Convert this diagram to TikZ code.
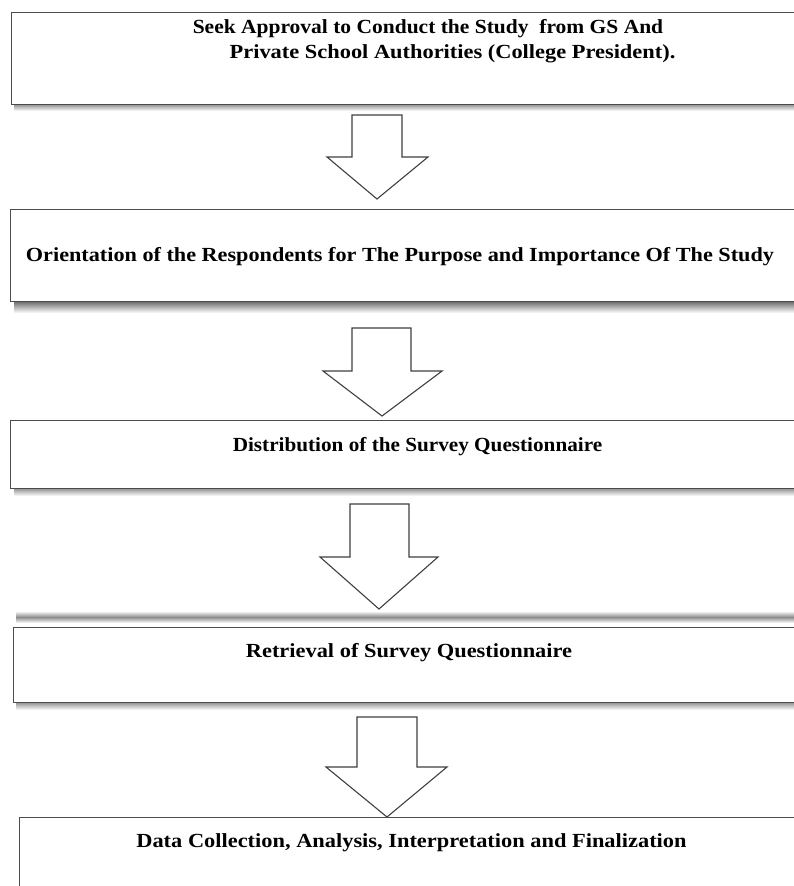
\documentclass[tikz,border=0pt]{standalone}
\usepackage{fontspec}
\setmainfont{Liberation Serif}
\begin{document}
\begin{tikzpicture}[x=1pt,y=-1pt,
  stepbox/.style={draw=black!70, line width=1.3pt, fill=white, rectangle, inner sep=0pt, anchor=north west},
  steptext/.style={font=\fontsize{20}{22}\selectfont\bfseries, inner sep=0pt, anchor=center},
  blockarrow/.style={draw=black!75, line width=1.1pt, fill=white, line join=miter},
  shadowband/.style={top color=black!45, bottom color=white}
]
\useasboundingbox (0,0) rectangle (794,886);
\clip (0,0) rectangle (794,886);
\fill[white] (0,0) rectangle (794,886);

% shadows
\shade[shadowband] (14,104) rectangle (800,111);
\shade[top color=black!60, bottom color=white] (14,301) rectangle (800,313);
\shade[shadowband] (14,488) rectangle (800,496);
\shade[top color=white, bottom color=black!45] (16,611) rectangle (800,617);
\shade[top color=black!45, bottom color=white] (16,617) rectangle (800,623);
\shade[shadowband] (16,702) rectangle (800,710);

% boxes
\node[stepbox, minimum width=800pt, minimum height=92pt] (b1) at (11,12) {};
\node[stepbox, minimum width=800pt, minimum height=92pt] (b2) at (10,209) {};
\node[stepbox, minimum width=800pt, minimum height=68pt] (b3) at (10,420) {};
\node[stepbox, minimum width=800pt, minimum height=75pt] (b4) at (13,627) {};
\node[stepbox, minimum width=800pt, minimum height=100pt] (b5) at (19,817) {};

% texts
\node[steptext] (t1a) at (428,29) {\scalebox{1.075}[1]{Seek Approval to Conduct the Study \ from GS And}};
\node[steptext] (t1b) at (452.5,54) {\scalebox{1.12}[1]{Private School Authorities (College President).}};
\node[steptext] (t2) at (400,257) {\scalebox{1.11}[1]{Orientation of the Respondents for The Purpose and Importance Of The Study}};
\node[steptext] (t3) at (417.5,447) {\scalebox{1.06}[1]{Distribution of the Survey Questionnaire}};
\node[steptext] (t4) at (409,653) {\scalebox{1.12}[1]{Retrieval of Survey Questionnaire}};
\node[steptext] (t5) at (411.5,843) {\scalebox{1.12}[1]{Data Collection, Analysis, Interpretation and Finalization}};

% block arrows between boxes
\draw[blockarrow] (352,115) -- (402,115) -- (402,157) -- (428,157) -- (377,199) -- (327,157) -- (352,157) -- cycle;
\draw[blockarrow] (352,328) -- (411,328) -- (411,371) -- (442,371) -- (382,416) -- (323,371) -- (352,371) -- cycle;
\draw[blockarrow] (350,504) -- (409,504) -- (409,557) -- (438,557) -- (379,609) -- (320,557) -- (350,557) -- cycle;
\draw[blockarrow] (357,717) -- (417,717) -- (417,767) -- (447,767) -- (387,817) -- (326,767) -- (357,767) -- cycle;
\end{tikzpicture}
\end{document}
